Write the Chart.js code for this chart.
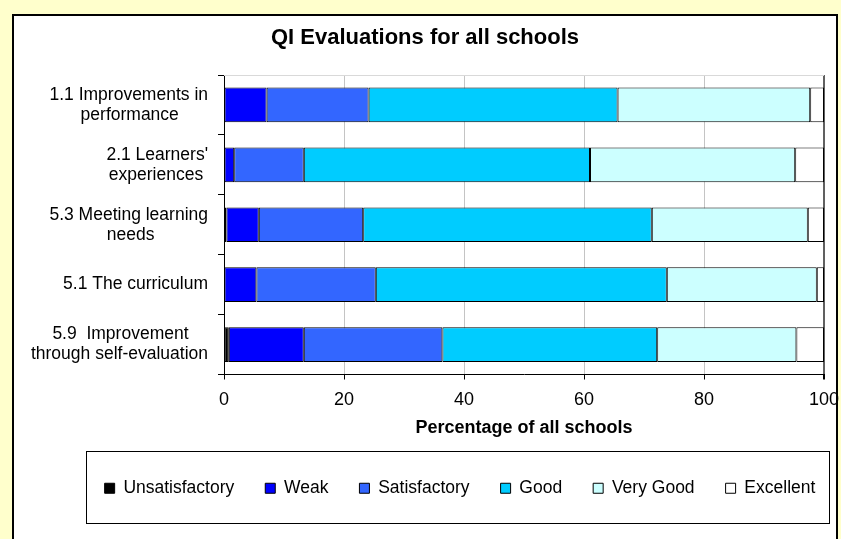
<!DOCTYPE html>
<html><head><meta charset="utf-8">
<script src="https://cdn.jsdelivr.net/npm/chart.js@4.4.1/dist/chart.umd.min.js"></script>
<style>
html,body{margin:0;padding:0;background:#FFFFCC;width:841px;height:539px;overflow:hidden;}
#frame{position:absolute;left:12px;top:14px;width:826px;height:600px;box-sizing:border-box;background:#fff;border:2px solid #000;}
#legendFrame{position:absolute;left:86px;top:451px;width:744px;height:73px;box-sizing:border-box;border:1px solid #000;}
#c{position:absolute;left:0;top:0;}
</style></head><body>
<div id="frame"></div><div id="legendFrame"></div>
<canvas id="c" width="841" height="539"></canvas>
<script>
const categories = [["1.1 Improvements in","performance"],["2.1 Learners'","experiences"],["5.3 Meeting learning","needs"],"5.1 The curriculum",["5.9  Improvement","through self-evaluation"]];
const seriesNames = ["Unsatisfactory","Weak","Satisfactory","Good","Very Good","Excellent"];
const unsatisfactory = [0, 0, 0.4, 0, 0.8];
const weak = [7.1, 1.7, 5.4, 5.4, 12.5];
const satisfactory = [17.0, 11.6, 17.4, 19.9, 23.1];
const good = [41.5, 47.7, 48.1, 48.5, 35.8];
const veryGood = [32.1, 34.2, 26.0, 25.0, 23.2];
const excellent = [2.3, 4.8, 2.7, 1.2, 4.6];
const xTicks = [0, 20, 40, 60, 80, 100];
const seriesColors = ["#000000","#0000FF","#3366FF","#00CCFF","#CCFFFF","#FFFFFF"];
const seriesValues = [unsatisfactory, weak, satisfactory, good, veryGood, excellent];

const FAMILY = '"Liberation Sans", Arial, sans-serif';
Chart.defaults.color = '#000';
Chart.defaults.font.family = FAMILY;

const mctx = document.createElement('canvas').getContext('2d');
function centeredLines(lbl, size){
  if(!Array.isArray(lbl)) return lbl;
  mctx.font = size + 'px ' + FAMILY;
  const ws = lbl.map(t => mctx.measureText(t).width);
  const max = Math.max(...ws);
  const sp = mctx.measureText(' ').width;
  return lbl.map((t,i) => t + ' '.repeat(Math.round((max - ws[i]) / 2 / sp)));
}

const framePlugin = {
  id: 'framePlugin',
  afterLayout(chart){
    const lg = chart.legend;
    lg.left += 35; lg.right += 35;
  },
  beforeDatasetsDraw(chart){
    const {ctx, chartArea: a} = chart;
    ctx.save();
    ctx.strokeStyle = '#D9D9D9'; ctx.lineWidth = 1;
    ctx.beginPath(); ctx.moveTo(a.left, Math.round(a.top) + 0.5); ctx.lineTo(a.right, Math.round(a.top) + 0.5); ctx.stroke();
    ctx.restore();
  }
};

new Chart(document.getElementById('c'), {
  type: 'bar',
  data: {
    labels: categories,
    datasets: seriesNames.map((n, i) => ({
      label: n,
      data: seriesValues[i],
      backgroundColor: seriesColors[i],
      borderColor: '#000',
      borderWidth: 1,
      borderSkipped: false,
      barPercentage: 0.58,
      categoryPercentage: 1
    }))
  },
  options: {
    indexAxis: 'y',
    responsive: false,
    animation: false,
    devicePixelRatio: 1,
    layout: { padding: { left: 26, right: 17, top: 0, bottom: 32 } },
    scales: {
      x: {
        stacked: true, min: 0, max: 100,
        afterBuildTicks: s => { s.ticks = xTicks.map(v => ({ value: v })); },
        afterFit: s => { s.height = 74; s.paddingLeft = 0; s.paddingRight = 0; },
        ticks: { font: { size: 18 }, padding: 10, color: '#000' },
        grid: {
          color: c => (c.tick && c.tick.value === 100) ? '#606060' : '#C4C4C4',
          lineWidth: c => (c.tick && c.tick.value === 100) ? 2 : 1,
          tickColor: '#000', tickLength: 5
        },
        border: { color: '#000', width: 1 },
        title: { display: true, text: 'Percentage of all schools', font: { size: 18, weight: 'bold' }, color: '#000', padding: { top: 0, bottom: 10 } }
      },
      y: {
        stacked: true,
        afterFit: s => { s.width = 198; },
        ticks: {
          font: { size: 17.5, lineHeight: 1.15 }, padding: 10, color: '#000',
          callback: function(v){ return centeredLines(categories[v], 17.5); }
        },
        grid: { drawOnChartArea: false, offset: true, tickColor: '#000', tickLength: 6 },
        border: { color: '#000', width: 1 }
      }
    },
    plugins: {
      title: { display: true, text: 'QI Evaluations for all schools', font: { size: 22, weight: 'bold' }, color: '#000', padding: { top: 25, bottom: 23.6 } },
      legend: {
        position: 'bottom',
        labels: { boxWidth: 10, boxHeight: 10, padding: 31, font: { size: 17.5 }, color: '#000' }
      },
      tooltip: { enabled: false }
    }
  },
  plugins: [framePlugin]
});
</script>
</body></html>
